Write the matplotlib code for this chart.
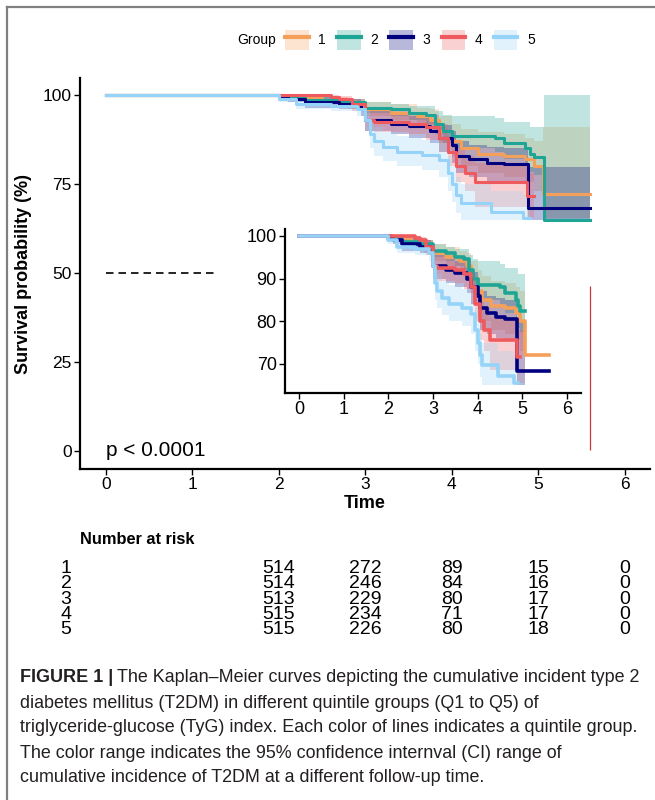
import matplotlib
matplotlib.use("Agg")
import matplotlib.pyplot as plt
from matplotlib.lines import Line2D
from matplotlib.patches import Patch
from matplotlib.legend_handler import HandlerTuple
from matplotlib.transforms import blended_transform_factory

plt.rcParams['font.family'] = ['Liberation Sans', 'DejaVu Sans']

GROUPS = ['1', '2', '3', '4', '5']
COLORS = ['#F5A05A', '#1FA596', '#00007F', '#EE5A5E', '#96D3F8']

# Kaplan-Meier steps (time, survival %, 95% CI)
T1 = [0, 2.1, 2.5, 2.8, 3.0, 3.3, 3.6, 3.75, 3.85, 4.0, 4.1, 4.3, 4.6, 4.85, 4.95, 5.05, 5.6]
S1 = [100, 99.5, 98.5, 97.5, 96, 95, 94, 93, 90, 87, 85, 83.5, 83, 82, 80, 72.2, 72.2]
HI1 = [100, 100, 99.5, 99, 98, 97.5, 96.5, 96, 94, 92, 90.5, 89.5, 89, 88, 87, 91, 91]
LO1 = [100, 98.5, 97.5, 96, 94, 93, 91.5, 90, 86.5, 82.5, 80, 78, 77, 75.5, 73, 65.5, 65.5]

T2 = [0, 2.05, 2.3, 2.7, 3.0, 3.3, 3.5, 3.7, 3.8, 3.9, 4.0, 4.5, 4.6, 4.85, 4.9, 4.95, 5.06, 5.6]
S2 = [100, 99.5, 98.5, 98, 96.5, 96, 95, 94.5, 92, 90, 88.5, 88, 86.5, 85, 83.5, 82.5, 65, 65]
HI2 = [100, 99.8, 99.5, 99, 98, 97.5, 97, 97, 95.5, 94.5, 94, 93.5, 92.5, 92.5, 91, 91, 100, 100]
LO2 = [100, 99, 97.5, 96.5, 95, 94, 93, 92, 89, 86.5, 85, 84, 82, 80, 78.5, 77.5, 65, 65]

T3 = [0, 2.0, 2.1, 2.3, 2.7, 2.95, 3.0, 3.3, 3.5, 3.75, 3.85, 4.0, 4.05, 4.2, 4.4, 4.6, 4.88, 5.6]
S3 = [100, 99.5, 99, 98, 97.5, 96, 93, 92, 91.3, 90, 88, 86, 83, 82, 81, 80.5, 68.3, 68.3]
HI3 = [100, 99.8, 99.8, 99.5, 99, 98, 95.5, 94.5, 94, 93, 91.5, 90, 87, 86, 85.5, 85, 79.8, 79.8]
LO3 = [100, 99, 98, 96.5, 96, 94, 90, 89, 88, 86.5, 84, 81, 78, 77, 76, 75.5, 65, 65]

T4 = [0, 2.6, 2.7, 2.85, 3.0, 3.1, 3.5, 3.7, 3.85, 3.95, 4.05, 4.15, 4.27, 4.87, 4.95]
S4 = [100, 99.5, 99, 97.5, 93, 92.5, 92, 91, 88, 84, 80, 78, 75.5, 71.6, 71.6]
HI4 = [100, 100, 99.8, 99, 96, 95.5, 95, 94.5, 92, 88.5, 85, 83, 81, 78, 78]
LO4 = [100, 99, 98, 95.5, 90, 89.5, 89, 87.5, 84, 80, 75.5, 73, 68.5, 65.5, 65.5]

T5 = [0, 2.0, 2.2, 2.6, 2.9, 3.0, 3.05, 3.1, 3.2, 3.36, 3.65, 3.85, 3.95, 4.0, 4.05, 4.1, 4.45, 4.82, 4.9]
S5 = [100, 99, 97.5, 97, 96, 93, 89, 87, 85.5, 84.1, 83.1, 81.7, 78, 75, 72, 69.7, 67.2, 65.5, 65.5]
HI5 = [100, 100, 99, 98.5, 98, 96, 93, 91, 89.5, 88.5, 87.5, 86.5, 83, 80, 77, 75, 73, 72, 72]
LO5 = [100, 98, 96, 95.5, 94, 90, 85, 83, 81.5, 80, 79, 77, 73, 70, 67, 65, 65, 65, 65]

CURVES = [(T1, S1, LO1, HI1), (T2, S2, LO2, HI2), (T3, S3, LO3, HI3),
          (T4, S4, LO4, HI4), (T5, S5, LO5, HI5)]

# inset: ribbons stop at this time, lines per group stop here
INSET_RIBBON_END = 5.05
INSET_LINE_END = [5.6, 5.05, 5.6, 4.95, 4.9]

MEDIAN_END = 1.26          # dashed 50% reference
RED_MARK = (5.6, 0.3, 46.3)  # stray vertical segment

RISK_TIMES = [2, 3, 4, 5, 6]
RISK_1 = [514, 272, 89, 15, 0]
RISK_2 = [514, 246, 84, 16, 0]
RISK_3 = [513, 229, 80, 17, 0]
RISK_4 = [515, 234, 71, 17, 0]
RISK_5 = [515, 226, 80, 18, 0]
RISK = [RISK_1, RISK_2, RISK_3, RISK_4, RISK_5]

CAPTION_HEAD = "FIGURE 1 |"
CAPTION = [
    "The Kaplan\u2013Meier curves depicting the cumulative incident type 2",
    "diabetes mellitus (T2DM) in different quintile groups (Q1 to Q5) of",
    "triglyceride-glucose (TyG) index. Each color of lines indicates a quintile group.",
    "The color range indicates the 95% confidence internval (CI) range of",
    "cumulative incidence of T2DM at a different follow-up time.",
]

W, H = 655, 800


def clip(t, cols, tmax):
    t2 = [x for x in t if x < tmax]
    n = len(t2)
    out = [c[:n] + [c[n - 1]] for c in cols]
    return t2 + [tmax], out


def style_axes(ax, size):
    for s in ['top', 'right']:
        ax.spines[s].set_visible(False)
    for s in ['left', 'bottom']:
        ax.spines[s].set_linewidth(1.6)
    ax.tick_params(direction='out', length=4, width=1, labelsize=size, pad=2, colors='black')


def draw_curves(ax, inset=False):
    for i, (t, s, lo, hi) in enumerate(CURVES):
        if inset:
            tl, (sl,) = clip(t, [s], INSET_LINE_END[i])
        else:
            tl, sl = t, s
        ax.step(tl, sl, where='post', color=COLORS[i], lw=2.6 if inset else 2.2)
    for i, (t, s, lo, hi) in enumerate(CURVES):
        if inset:
            tr, (lr, hr) = clip(t, [lo, hi], INSET_RIBBON_END)
        else:
            tr, lr, hr = t, lo, hi
        ax.fill_between(tr, lr, hr, step='post', color=COLORS[i], alpha=0.28, lw=0)


fig = plt.figure(figsize=(W / 100, H / 100), dpi=100)

ax = fig.add_axes([80 / W, 1 - 469 / H, 570 / W, 391 / H])
draw_curves(ax)
ax.plot([0, MEDIAN_END], [50, 50], color='black', lw=1.2, dashes=(4.5, 3))
ax.vlines(RED_MARK[0], RED_MARK[1], RED_MARK[2], color='#C8373B', lw=0.9)
ax.text(0, 0, 'p < 0.0001', fontsize=15, ha='left', va='center')
ax.set_xlim(-0.3, 6.29)
ax.set_ylim(-5.06, 104.8)
ax.set_xticks(range(7))
ax.set_yticks([0, 25, 50, 75, 100])
style_axes(ax, 12.5)
ax.set_xlabel('Time', fontsize=13, fontweight='bold', labelpad=2)
ax.set_ylabel('Survival probability (%)', fontsize=13, fontweight='bold', labelpad=8)

axi = fig.add_axes([285 / W, 1 - 393 / H, 296 / W, 164 / H])
axi.set_facecolor('none')
draw_curves(axi, inset=True)
axi.set_xlim(-0.31, 6.31)
axi.set_ylim(63.2, 101.6)
axi.set_xticks(range(7))
axi.set_yticks([70, 80, 90, 100])
style_axes(axi, 13)

# legend
handles = [(Patch(facecolor=c, alpha=0.28, lw=0), Line2D([], [], color=c, lw=3)) for c in COLORS]
fig.text(237 / W, 1 - 40 / H, 'Group', fontsize=10, va='center', ha='left')
fig.legend(handles, GROUPS, handler_map={tuple: HandlerTuple(ndivide=1, pad=0)},
           ncol=5, loc='center left', bbox_to_anchor=(285 / W, 1 - 40 / H),
           frameon=False, fontsize=10, handlelength=1.7, handleheight=1.8,
           handletextpad=0.7, columnspacing=0.8, borderpad=0, borderaxespad=0)

# number at risk table, one text per column
fig.text(80 / W, 1 - 540 / H, 'Number at risk', fontsize=11.8, fontweight='bold', va='center')
tr = blended_transform_factory(ax.transData, fig.transFigure)
y_mid = 1 - (567 + 16 * 2) / H
fig.text(66 / W, y_mid, '\n'.join(GROUPS), fontsize=14, ha='center', va='center',
         linespacing=0.86)
for c, t in enumerate(RISK_TIMES):
    col = '\n'.join(str(row[c]) for row in RISK)
    ax.text(t, y_mid, col, transform=tr, fontsize=14, ha='center', va='center',
            multialignment='center', linespacing=0.86, clip_on=False)

# caption
cap_col = '#231F20'
head = fig.text(20 / W, 1 - 678 / H, CAPTION_HEAD, fontsize=13, fontweight='bold',
                color=cap_col, va='center')
plt.annotate(CAPTION[0], xy=(1, 0), xycoords=head, xytext=(3, 0), textcoords='offset points',
             fontsize=12.9, color=cap_col, va='bottom', ha='left')
for k, line in enumerate(CAPTION[1:], start=1):
    fig.text(20 / W, 1 - (678 + 25 * k) / H, line, fontsize=12.9, color=cap_col, va='center')

# page frame (left and top rules)
fig.add_artist(Line2D([7 / W, 1], [1 - 7 / H, 1 - 7 / H], color='#808080', lw=1.6,
                      transform=fig.transFigure))
fig.add_artist(Line2D([7 / W, 7 / W], [0, 1 - 7 / H], color='#808080', lw=1.6,
                      transform=fig.transFigure))

fig.savefig('out.png', dpi=100)
